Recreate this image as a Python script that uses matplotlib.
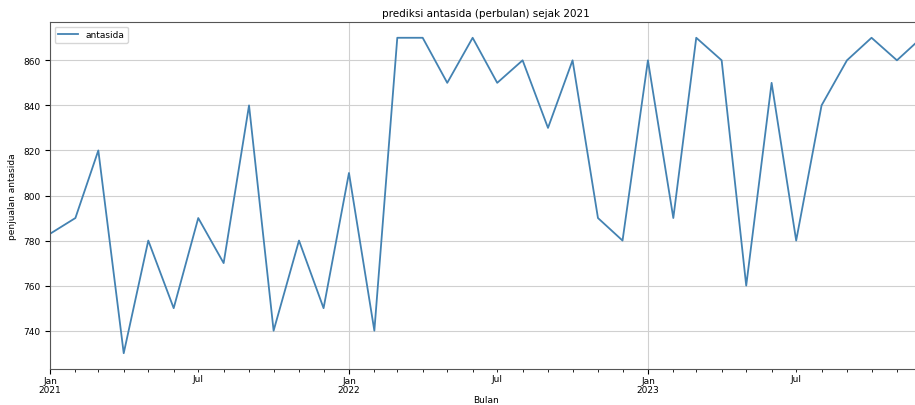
import pandas as pd
import matplotlib
matplotlib.use("Agg")
import matplotlib.pyplot as plt
import matplotlib.dates as mdates
from matplotlib.ticker import FuncFormatter

# penjualan antasida per bulan, Jan 2021 - Des 2023
bulan = pd.date_range("2021-01-01", periods=36, freq="MS")
antasida = [783, 790, 820, 730, 780, 750, 790, 770, 840, 740, 780, 750,
            810, 740, 870, 870, 850, 870, 850, 860, 830, 860, 790, 780,
            860, 790, 870, 860, 760, 850, 780, 840, 860, 870, 860, 870]

W, H = 915, 406
fig = plt.figure(figsize=(W / 100, H / 100), dpi=100)
# sumbu sengaja lebih lebar dari kanvas, titik terakhir terpotong di kanan
ax = fig.add_axes([50 / W, 36 / H, 871.5 / W, 347 / H])

ax.plot(bulan, antasida, color="#4382b2", linewidth=1.3, label="antasida")
ax.set_xlim(bulan[0], bulan[-1])

ax.xaxis.set_major_locator(mdates.MonthLocator(bymonth=1))
ax.xaxis.set_major_formatter(FuncFormatter(
    lambda v, p: mdates.num2date(v).strftime("%b\n%Y")))
ax.xaxis.set_minor_locator(mdates.MonthLocator())
ax.xaxis.set_minor_formatter(FuncFormatter(
    lambda v, p: "Jul" if mdates.num2date(v).month == 7 else ""))

ax.tick_params(axis="both", which="major", labelsize=6.5, length=3.5, width=0.8)
ax.tick_params(axis="x", which="major", pad=1.5)
ax.tick_params(axis="x", which="minor", labelsize=6.5, length=2, width=0.6, pad=1.5)
ax.set_yticks([740, 760, 780, 800, 820, 840, 860])

ax.grid(True, which="major", color="#d0d0d0", linewidth=0.8)
for s in ax.spines.values():
    s.set_linewidth(0.8)
    s.set_color("#555555")

ax.set_title("prediksi antasida (perbulan) sejak 2021", fontsize=7.5, pad=4)
ax.set_xlabel("Bulan", fontsize=6.5, labelpad=1)
ax.set_ylabel("penjualan antasida", fontsize=6.5, labelpad=4)
ax.legend(loc="upper left", fontsize=6.5, handlelength=2.2, framealpha=0.8)

fig.canvas.draw()
for lbl in ax.get_xticklabels():
    lbl.set_linespacing(0.95)

fig.savefig("out.png", dpi=100)
